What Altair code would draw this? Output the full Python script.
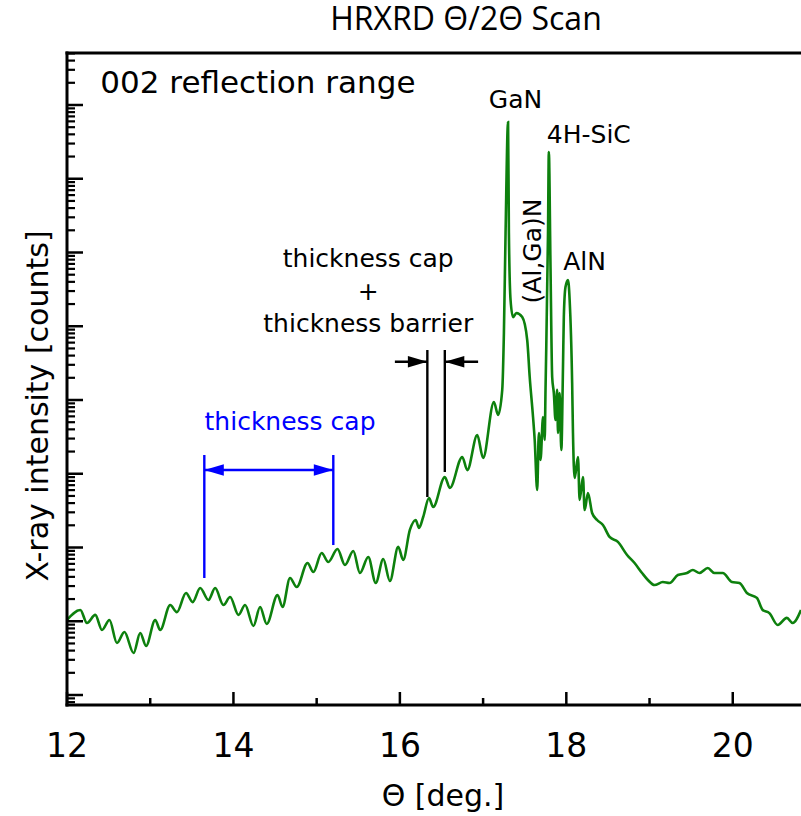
import altair as alt
import pandas as pd

# ---- measured scan (Theta in degrees, intensity in counts) ----
theta = [12.00, 12.16, 12.24, 12.34, 12.42, 12.51, 12.60, 12.69, 12.80, 12.88, 12.95,
         13.06, 13.12, 13.24, 13.32, 13.43, 13.51, 13.60, 13.70, 13.78, 13.88, 13.96,
         14.06, 14.14, 14.24, 14.32, 14.40, 14.53, 14.59, 14.68, 14.76, 14.89, 14.96,
         15.06, 15.14, 15.25, 15.34, 15.44, 15.52, 15.62, 15.71, 15.80, 15.88, 15.98,
         16.04, 16.12, 16.19, 16.23, 16.28, 16.35, 16.40, 16.54, 16.60, 16.75, 16.81,
         16.93, 17.00, 17.13, 17.18, 17.23, 17.25, 17.27, 17.30, 17.31, 17.33, 17.36,
         17.40, 17.47, 17.53, 17.56, 17.60, 17.62, 17.65, 17.67, 17.69, 17.72, 17.74,
         17.75, 17.78, 17.79, 17.81, 17.83, 17.85, 17.87, 17.89, 17.90, 17.92, 17.94,
         17.96, 17.97, 17.99, 18.02, 18.04, 18.07, 18.08, 18.10, 18.14, 18.16, 18.20,
         18.22, 18.26, 18.31, 18.37, 18.44, 18.52, 18.62, 18.73, 18.82, 18.91, 18.98,
         19.06, 19.16, 19.24, 19.34, 19.45, 19.52, 19.60, 19.70, 19.78, 19.88, 19.99,
         20.08, 20.17, 20.29, 20.36, 20.44, 20.54, 20.65, 20.72, 20.82]
counts = [10.4, 14.2, 9.47, 12.2, 7.61, 10.4, 5.07, 7.15, 3.71, 6.93, 4.62,
          10.4, 7.61, 16.6, 13.3, 24.2, 18.2, 28.2, 19.4, 28.2, 16.6, 21.3,
          12.2, 16.6, 8.62, 15.6, 9.18, 22.7, 15.6, 38.6, 29.1, 61.6, 46.5,
          84.2, 63.6, 95.4, 57.9, 89.7, 45.1, 74.3, 33.0, 69.8, 35.2, 102,
          67.7, 173, 236, 184, 259, 469, 354, 904, 641, 1690, 1120,
          3350, 1640, 9400, 6270, 13700, 80900, 1.84e6, 5.88e7, 1.84e6, 2.27e5, 1.33e5,
          1.51e5, 1.33e5, 65100, 20500, 5880, 2870, 602, 3570, 1540, 5880, 2870,
          13700, 1.84e6, 2.31e7, 6.36e5, 20500, 12400, 5350, 13700, 3570, 12400, 2100,
          28000, 1.33e5, 3.41e5, 4.24e5, 2.27e5, 17000, 3570, 875, 1690, 441, 904,
          322, 548, 294, 236, 202, 139, 119, 79.1, 61.6, 45.1, 36.3,
          31.0, 34.0, 33.0, 42.4, 45.1, 49.5, 45.1, 52.7, 45.1, 45.1, 34.0,
          33.0, 24.2, 20.7, 14.2, 12.9, 8.90, 11.1, 9.47, 14.2]

# ---- axis ticks and labels ----
x_major = [12, 14, 16, 18, 20]
x_labels = ["12", "14", "16", "18", "20"]
x_minor = [13, 15, 17, 19]
y_major = [1, 10, 100, 1e3, 1e4, 1e5, 1e6, 1e7, 1e8]
y_minor = [0.8, 0.9] + [k * 10 ** n for n in range(0, 9) for k in range(2, 10) if k * 10 ** n <= 5e8]

title_text = "HRXRD Θ/2Θ Scan"
x_title = "Θ [deg.]"
y_title = "X-ray intensity [counts]"

# ---- annotations ----
seg_x = [13.65, 15.20, 13.65, 16.33, 16.54, 15.94, 16.94]
seg_x2 = [13.65, 15.20, 15.20, 16.33, 16.54, 16.33, 16.54]
seg_y = [38.6, 108, 1125, 484, 1056, 33000, 33000]
seg_y2 = [1795, 1795, 1125, 47600, 47600, 33000, 33000]
seg_col = ["blue", "blue", "blue", "black", "black", "black", "black"]

head_x = [13.65, 15.20, 16.33, 16.54]
head_y = [1125, 1125, 33000, 33000]
head_dir = ["L", "R", "R", "L"]
head_col = ["blue", "blue", "black", "black"]

lab_text = ["GaN", "4H-SiC", "AlN", "thickness cap", "+", "thickness barrier"]
lab_x = [17.39, 18.27, 18.22, 15.62, 15.62, 15.62]
lab_y = [9.1e7, 3.05e7, 5.79e5, 6.36e5, 2.27e5, 8.36e4]

W, H = 734, 652
FONT = "DejaVu Sans"

xs = alt.Scale(domain=[12, 20.82], nice=False, zero=False)
ys = alt.Scale(type="log", domain=[0.732, 5.07e8], nice=False)


def X(f):
    return alt.X(f, scale=xs, axis=None)


def Y(f):
    return alt.Y(f, scale=ys, axis=None)


one = pd.DataFrame({"a": [0]})

line = alt.Chart(pd.DataFrame({"theta": theta, "counts": counts})).mark_line(
    color="#0d800d", strokeWidth=2.6, interpolate="monotone", clip=True
).encode(x=X("theta:Q"), y=Y("counts:Q"))

# frame: left, bottom and top border lines
left = alt.Chart(one).mark_rule(color="black", strokeWidth=3).encode(
    x=alt.value(0), y=alt.value(-1.5), y2=alt.value(H + 1.5))
bottom = alt.Chart(one).mark_rule(color="black", strokeWidth=3).encode(
    x=alt.value(-1.5), x2=alt.value(W), y=alt.value(H))
top = alt.Chart(one).mark_rule(color="black", strokeWidth=3).encode(
    x=alt.value(-1.5), x2=alt.value(W), y=alt.value(0))

ymaj = alt.Chart(pd.DataFrame({"v": y_major})).mark_rule(color="black", strokeWidth=2.5).encode(
    y=Y("v:Q"), x=alt.value(0), x2=alt.value(16))
ymin = alt.Chart(pd.DataFrame({"v": y_minor})).mark_rule(color="black", strokeWidth=2.2).encode(
    y=Y("v:Q"), x=alt.value(0), x2=alt.value(8))
xmaj = alt.Chart(pd.DataFrame({"v": x_major})).mark_rule(color="black", strokeWidth=2.5).encode(
    x=X("v:Q"), y=alt.value(H), y2=alt.value(H - 13))
xmin = alt.Chart(pd.DataFrame({"v": x_minor})).mark_rule(color="black", strokeWidth=2.5).encode(
    x=X("v:Q"), y=alt.value(H), y2=alt.value(H - 7))

xlab = alt.Chart(pd.DataFrame({"v": x_major, "t": x_labels})).mark_text(
    font=FONT, fontSize=33, color="black", align="center", baseline="alphabetic"
).encode(x=X("v:Q"), y=alt.value(H + 52), text="t:N")

xtitle = alt.Chart(one).mark_text(
    text=x_title, font=FONT, fontSize=30, color="black", align="center", baseline="alphabetic"
).encode(x=alt.value(376), y=alt.value(H + 101))

ytitle = alt.Chart(one).mark_text(
    text=y_title, font=FONT, fontSize=30, color="black", align="center", baseline="alphabetic", angle=270
).encode(x=alt.value(-19), y=alt.value(353))

ttl = alt.Chart(one).mark_text(
    text=title_text, font="Open Sans", fontSize=32, color="black", align="center", baseline="alphabetic"
).encode(x=alt.value(399), y=alt.value(-23))

seg_df = pd.DataFrame({"x": seg_x, "x2": seg_x2, "y": seg_y, "y2": seg_y2, "c": seg_col})
segs = alt.Chart(seg_df).mark_rule(strokeWidth=2.4).encode(
    x=X("x:Q"), x2="x2:Q", y=Y("y:Q"), y2="y2:Q",
    color=alt.Color("c:N", scale=None, legend=None))

head_df = pd.DataFrame({"x": head_x, "y": head_y, "d": head_dir, "c": head_col})
heads = alt.Chart(head_df).mark_point(filled=True, opacity=1, size=380, strokeWidth=0).encode(
    x=X("x:Q"), y=Y("y:Q"),
    shape=alt.Shape("d:N", scale=alt.Scale(domain=["L", "R"],
                    range=["M 0 0 L 2 -0.6 L 2 0.6 Z", "M 0 0 L -2 -0.6 L -2 0.6 Z"]), legend=None),
    color=alt.Color("c:N", scale=None, legend=None))

labels = alt.Chart(pd.DataFrame({"t": lab_text, "x": lab_x, "y": lab_y})).mark_text(
    font=FONT, fontSize=25, color="black", align="center", baseline="alphabetic"
).encode(x=X("x:Q"), y=Y("y:Q"), text="t:N")

rot = alt.Chart(pd.DataFrame({"t": ["(Al,Ga)N"], "x": [17.60], "y": [1.05e6]})).mark_text(
    font=FONT, fontSize=25, color="black", align="center", baseline="middle", angle=270
).encode(x=X("x:Q"), y=Y("y:Q"), text="t:N")

blue = alt.Chart(pd.DataFrame({"t": ["thickness cap"], "x": [14.68], "y": [3920]})).mark_text(
    font=FONT, fontSize=25, color="blue", align="center", baseline="alphabetic"
).encode(x=X("x:Q"), y=Y("y:Q"), text="t:N")

big = alt.Chart(pd.DataFrame({"t": ["002 reflection range"], "x": [12.40], "y": [1.46e8]})).mark_text(
    font=FONT, fontSize=31, color="black", align="left", baseline="alphabetic"
).encode(x=X("x:Q"), y=Y("y:Q"), text="t:N")

chart = alt.layer(
    line, ymaj, ymin, xmaj, xmin, left, bottom, top, segs, heads,
    labels, rot, blue, big, xlab, xtitle, ytitle, ttl
).properties(
    width=W, height=H,
    background="white",
    autosize=alt.AutoSizeParams(type="none"),
    padding={"left": 67, "top": 53, "right": 0, "bottom": 111},
).configure_view(stroke="transparent", strokeWidth=0)

chart.save("out.html", embed_options={"renderer": "svg", "actions": False})
